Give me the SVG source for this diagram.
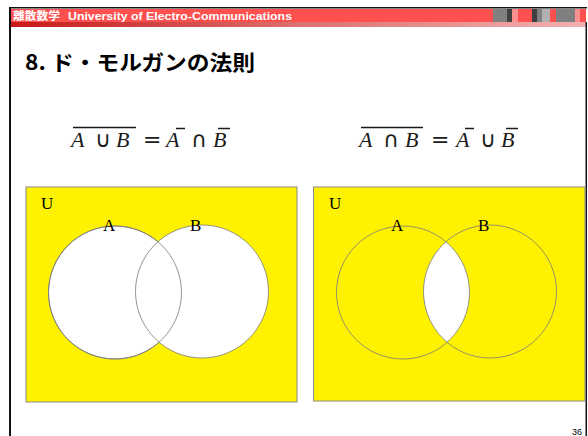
<svg xmlns="http://www.w3.org/2000/svg" width="588" height="436" viewBox="0 0 588 436">
<defs>
<style>
.hdr{font-family:"Liberation Sans","Noto Sans CJK JP",sans-serif;font-weight:bold;font-size:11.5px;fill:#ffffff}
.ttl{font-family:"Noto Sans CJK JP","Liberation Sans",sans-serif;font-weight:bold;font-size:21px;fill:#000}
.mi{font-family:"Liberation Serif","DejaVu Serif",serif;font-style:italic;font-size:22px;fill:#1a1a1a}
.mo{font-family:"DejaVu Sans","Liberation Serif",serif;font-size:22px;fill:#1a1a1a}
.lbl{font-family:"Liberation Serif",serif;font-size:17px;fill:#000}
.box{fill:#fff200;stroke:#8a8a8a;stroke-width:1}
.cir{stroke:#7a7a7a;stroke-width:0.8}
.bar{stroke:#1a1a1a;stroke-width:1.5}
</style>
<linearGradient id="strip" x1="0" y1="0" x2="1" y2="0">
<stop offset="0" stop-color="#c81818"/>
<stop offset="0.5" stop-color="#dc7070"/>
<stop offset="1" stop-color="#f2b0b0"/>
</linearGradient>
<clipPath id="clipA"><circle cx="403" cy="292.5" r="66.5"/></clipPath>
</defs>
<rect x="0" y="0" width="588" height="436" fill="#ffffff"/>
<g id="header">
<rect x="9" y="7" width="578" height="1.5" fill="#111"/>
<rect x="10" y="9" width="576" height="13" fill="#ff5050"/>
<rect x="10" y="22" width="576" height="5" fill="url(#strip)"/>
<rect x="493" y="9" width="14" height="13" fill="#808080"/>
<rect x="507" y="9" width="5" height="13" fill="#404040"/>
<rect x="512" y="9" width="6" height="13" fill="#ff9090"/>
<rect x="532" y="9" width="5" height="13" fill="#404040"/>
<rect x="537" y="9" width="5" height="13" fill="#808080"/>
<rect x="542" y="9" width="8" height="13" fill="#b0b0b0"/>
<rect x="556" y="9" width="19" height="13" fill="#808080"/>
<rect x="575" y="9" width="5" height="13" fill="#ff9090"/>
<text class="hdr" x="13" y="19.5" textLength="47" lengthAdjust="spacingAndGlyphs">離散数学</text>
<text class="hdr" x="68" y="19.5" textLength="224" lengthAdjust="spacingAndGlyphs">University of Electro-Communications</text>
<rect x="9" y="7" width="2" height="429" fill="#111"/>
<rect x="585.5" y="22" width="1.5" height="414" fill="#111"/>
</g>
<g id="title">
<text class="ttl" x="25" y="70" textLength="230" lengthAdjust="spacingAndGlyphs">8. ド・モルガンの法則</text>
</g>
<g id="formula-left">
<line class="bar" x1="73" y1="127.5" x2="136" y2="127.5"/>
<text class="mi" x="71" y="147">A</text>
<text class="mo" x="95" y="147">∪</text>
<text class="mi" x="116" y="147">B</text>
<text class="mo" x="143" y="147">=</text>
<text class="mi" x="166" y="147">A</text>
<line class="bar" x1="176" y1="128.5" x2="185" y2="128.5"/>
<text class="mo" x="191" y="147">∩</text>
<text class="mi" x="213" y="147">B</text>
<line class="bar" x1="218" y1="128.5" x2="230" y2="128.5"/>
</g>
<g id="formula-right">
<line class="bar" x1="361" y1="127.5" x2="423" y2="127.5"/>
<text class="mi" x="359" y="147">A</text>
<text class="mo" x="383" y="147">∩</text>
<text class="mi" x="405" y="147">B</text>
<text class="mo" x="431" y="147">=</text>
<text class="mi" x="456" y="147">A</text>
<line class="bar" x1="465" y1="128.5" x2="474" y2="128.5"/>
<text class="mo" x="480" y="147">∪</text>
<text class="mi" x="501" y="147">B</text>
<line class="bar" x1="506" y1="128.5" x2="518" y2="128.5"/>
</g>
<g id="venn-left">
<rect class="box" x="26" y="187" width="271" height="215"/>
<circle class="cir" cx="115" cy="292.5" r="66.5" fill="#ffffff"/>
<circle class="cir" cx="202" cy="291.5" r="66.5" fill="#ffffff"/>
<circle class="cir" cx="115" cy="292.5" r="66.5" fill="none"/>
<text class="lbl" x="41" y="209">U</text>
<text class="lbl" x="103" y="231">A</text>
<text class="lbl" x="190" y="231">B</text>
</g>
<g id="venn-right">
<rect class="box" x="313.5" y="187" width="271.5" height="214"/>
<circle cx="490" cy="291.5" r="66.5" fill="#ffffff" clip-path="url(#clipA)"/>
<circle class="cir" cx="403" cy="292.5" r="66.5" fill="none"/>
<circle class="cir" cx="490" cy="291.5" r="66.5" fill="none"/>
<text class="lbl" x="329" y="209">U</text>
<text class="lbl" x="391" y="231">A</text>
<text class="lbl" x="478" y="231">B</text>
</g>
<g id="page">
<text x="582" y="434.5" text-anchor="end" font-family="Liberation Sans,sans-serif" font-size="9" fill="#000">36</text>
</g>
</svg>
